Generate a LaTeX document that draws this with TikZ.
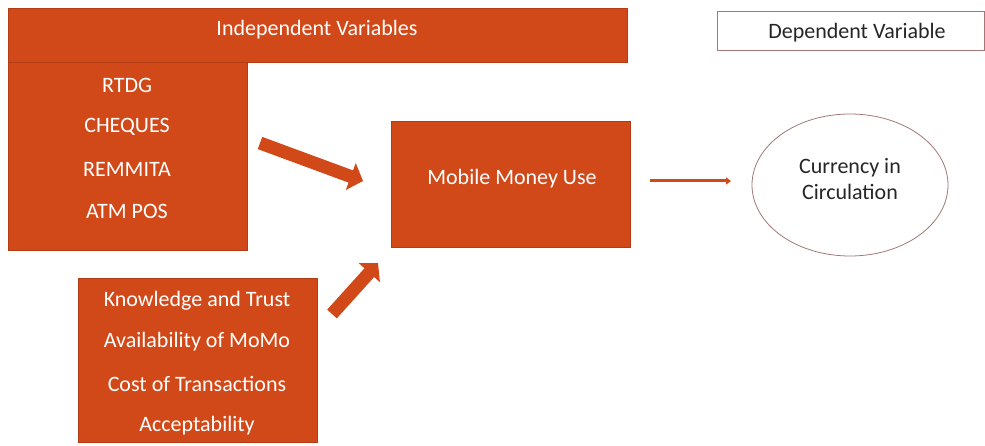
\documentclass[tikz,border=0pt]{standalone}
\usepackage{fontspec}
\setmainfont{Carlito}
\usetikzlibrary{arrows.meta,shapes.geometric}
\definecolor{org}{RGB}{209,73,24}
\definecolor{orgline}{RGB}{180,60,20}
\definecolor{brn}{RGB}{160,120,120}
\begin{document}
\begin{tikzpicture}[x=1pt,y=-1pt,
  obox/.style={draw=orgline,fill=org,line width=0.6pt,inner sep=0pt},
  wtxt/.style={text=white,font=\fontsize{22}{26}\selectfont,inner sep=0pt,anchor=center,yshift=-2pt},
  dtxt/.style={text=black!85,font=\fontsize{22}{26}\selectfont,inner sep=0pt,anchor=center,yshift=-2pt},
  blockarrow/.style={draw=none,fill=org,line width=13pt,-{Triangle[length=13pt,width=28pt]}}]
\useasboundingbox (0,0) rectangle (985,446);
% boxes
\draw[obox] (8,8) rectangle (627,62);
\node[wtxt] (iv) at (317,28) {Independent Variables};
\draw[obox] (8,62) rectangle (247,250);
\node[wtxt] (t1) at (127,83) {RTDG};
\node[wtxt] (t2) at (127,125) {CHEQUES};
\node[wtxt] (t3) at (127,167) {REMMITA};
\node[wtxt] (t4) at (127,209) {ATM POS};
\draw[obox] (78,278) rectangle (317,442);
\node[wtxt] (k1) at (197,299) {Knowledge and Trust};
\node[wtxt] (k2) at (197,340) {Availability of MoMo};
\node[wtxt] (k3) at (197,382) {Cost of Transactions};
\node[wtxt] (k4) at (197,424) {Acceptability};
\draw[obox] (391,121) rectangle (630,247);
\node[wtxt] (mm) at (512,177) {Mobile Money Use};
\draw[draw=brn,line width=0.8pt] (717,11) rectangle (984,50);
\node[dtxt] (dv) at (857,31) {Dependent Variable};
\node[draw=brn,line width=0.8pt,ellipse,minimum width=196pt,minimum height=142pt] (cc) at (850,185) {};
\node[dtxt,align=center,font=\fontsize{22}{26}\selectfont] (cct) at (850,177) {Currency in\\Circulation};
% arrows
\coordinate (a1s) at (260,143);
\coordinate (a1e) at (363,181);
\coordinate (a2s) at (332,314);
\coordinate (a2e) at (378,263);
\draw[blockarrow,draw=org] (a1s) -- (a1e);
\draw[blockarrow,draw=org] (a2s) -- (a2e);
\coordinate (l1s) at (650,181);
\coordinate (l1e) at (731,181);
\draw[org,line width=3pt,-{Triangle[length=5pt,width=7pt]}] (l1s) -- (l1e);
\end{tikzpicture}
\end{document}
